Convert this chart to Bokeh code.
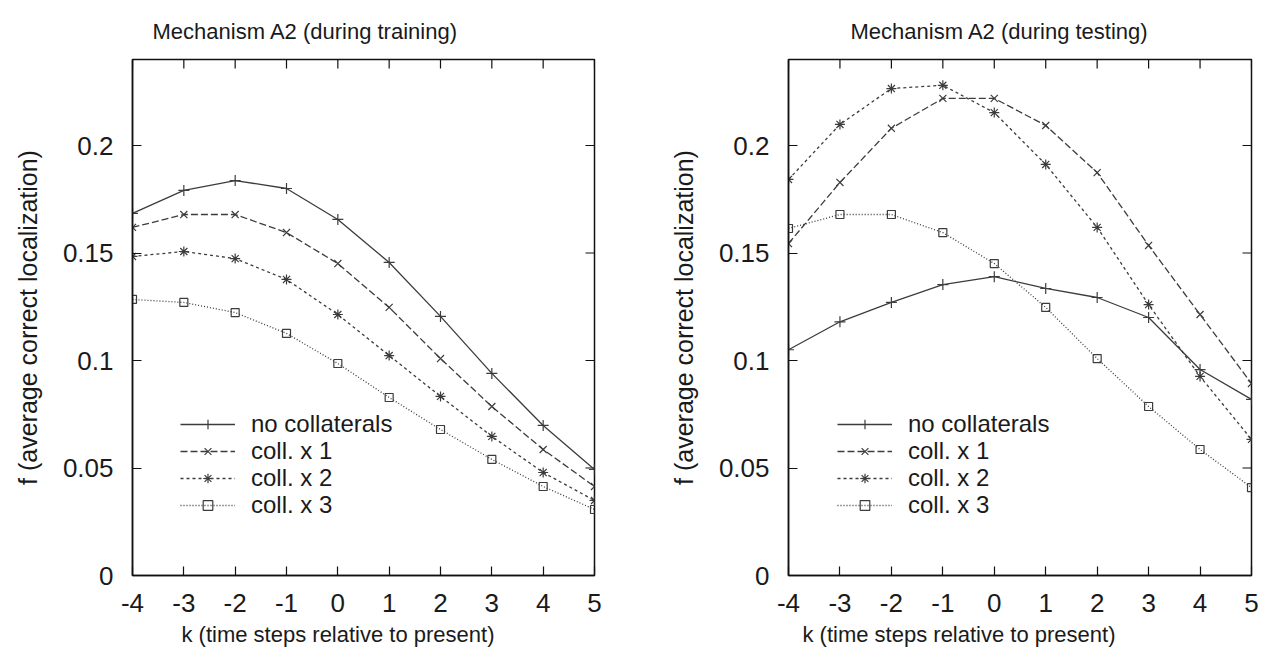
import math
from bokeh.plotting import figure
from bokeh.layouts import row
from bokeh.models import FixedTicker, Range1d, Legend, LegendItem, Title
from bokeh.embed import file_html
from bokeh.resources import INLINE

# ---------------- data ----------------
k = [-4, -3, -2, -1, 0, 1, 2, 3, 4, 5]

series_names = ["no collaterals", "coll. x 1", "coll. x 2", "coll. x 3"]

train_none = [0.1684, 0.1791, 0.1837, 0.1800, 0.1656, 0.1456, 0.1205, 0.0940, 0.0698, 0.0493]
train_c1 = [0.1619, 0.1679, 0.1679, 0.1595, 0.1451, 0.1247, 0.1009, 0.0786, 0.0586, 0.0414]
train_c2 = [0.1484, 0.1507, 0.1474, 0.1377, 0.1214, 0.1023, 0.0833, 0.0647, 0.0479, 0.0349]
train_c3 = [0.1284, 0.1270, 0.1223, 0.1126, 0.0986, 0.0828, 0.0679, 0.0540, 0.0414, 0.0307]

test_none = [0.1050, 0.1180, 0.1270, 0.1353, 0.1390, 0.1335, 0.1293, 0.1200, 0.0958, 0.0819]
test_c1 = [0.1544, 0.1828, 0.2080, 0.2219, 0.2219, 0.2093, 0.1874, 0.1535, 0.1214, 0.0893]
test_c2 = [0.1842, 0.2098, 0.2265, 0.2280, 0.2153, 0.1912, 0.1619, 0.1260, 0.0926, 0.0633]
test_c3 = [0.1614, 0.1679, 0.1679, 0.1595, 0.1451, 0.1247, 0.1009, 0.0786, 0.0586, 0.0409]

x_ticks = [-4, -3, -2, -1, 0, 1, 2, 3, 4, 5]
x_tick_labels = ["-4", "-3", "-2", "-1", "0", "1", "2", "3", "4", "5"]
y_ticks = [0, 0.05, 0.1, 0.15, 0.2]
y_tick_labels = ["0", "0.05", "0.1", "0.15", "0.2"]

x_min, x_max = -4, 5
y_min, y_max = 0, 0.24

titles = ["Mechanism A2 (during training)", "Mechanism A2 (during testing)"]
x_label = "k (time steps relative to present)"
y_label = "f (average correct localization)"

# ---------------- styles ----------------
FONT = "Liberation Sans"
TXT = "#1a1a1a"
LINE = "#3c3c3c"
FRAME = "#111111"
markers = ["cross", "x", "asterisk", "square"]
msizes = [11, 10, 10, 8]
dashes = ["solid", "7 3", "3 3", "1 2"]
LEG_PITCH = 27        # vertical distance between legend rows (px)
LEG_BOTTOM = 56       # bottom legend row offset from the frame bottom (px)


def make(title, data, width, bl, br, title_offset, xlab_offset, lx):
    p = figure(width=width, height=655,
               x_range=Range1d(x_min, x_max), y_range=Range1d(y_min, y_max),
               output_backend="svg", toolbar_location=None,
               min_border_left=bl, min_border_right=br,
               min_border_top=59, min_border_bottom=80)
    p.title.text = title
    p.title.text_font = FONT
    p.title.text_font_size = "22px"
    p.title.text_font_style = "normal"
    p.title.text_color = TXT
    p.title.align = "left"
    p.title.vertical_align = "bottom"
    p.title.offset = title_offset
    p.title.standoff = 32
    p.grid.visible = False
    p.outline_line_color = FRAME
    p.outline_line_width = 1.5
    p.background_fill_color = "white"
    p.border_fill_color = "white"

    xt = FixedTicker(ticks=x_ticks)
    yt = FixedTicker(ticks=y_ticks)
    xo = {t: s for t, s in zip(x_ticks, x_tick_labels)}
    yo = {t: s for t, s in zip(y_ticks, y_tick_labels)}

    for ax in p.xaxis:
        ax.ticker = xt
        ax.major_label_overrides = xo
    for ax in p.yaxis:
        ax.ticker = yt
        ax.major_label_overrides = yo
        ax.axis_label = y_label
        ax.axis_label_text_font_size = "25px"
    for ax in p.xaxis + p.yaxis:
        ax.major_tick_in = 9
        ax.major_tick_out = 0
        ax.minor_tick_line_color = None
        ax.major_tick_line_color = FRAME
        ax.major_tick_line_width = 1.2
        ax.axis_line_color = FRAME
        ax.axis_line_width = 1.5
        ax.major_label_text_font = FONT
        ax.major_label_text_font_size = "26px"
        ax.major_label_text_color = TXT
        ax.axis_label_text_font = FONT
        ax.axis_label_text_font_style = "normal"
        ax.axis_label_text_color = TXT
    p.xaxis.major_label_standoff = 18
    p.yaxis.major_label_standoff = 19
    p.yaxis.axis_label_standoff = 18

    # x-axis label placed like the original (offset from the frame's left edge)
    xl = Title(text=x_label, align="left", vertical_align="top", offset=xlab_offset,
               standoff=14, text_font=FONT, text_font_size="22px",
               text_font_style="normal", text_color=TXT)
    p.add_layout(xl, "below")

    # mirrored (inward) ticks on the top and right edges
    p.ray(x=x_ticks, y=[y_max] * len(x_ticks), length=9, length_units="screen",
          angle=-math.pi / 2, line_color=FRAME, line_width=1.2)
    p.ray(x=[x_max] * len(y_ticks), y=y_ticks, length=9, length_units="screen",
          angle=math.pi, line_color=FRAME, line_width=1.2)

    n = len(series_names)
    for i, (name, ys, m, ms, d) in enumerate(zip(series_names, data, markers, msizes, dashes)):
        lr = p.line(k, ys, line_color=LINE, line_width=1.3, line_dash=d)
        sr = p.scatter(k, ys, marker=m, size=ms, line_color=LINE, line_width=1.2,
                       fill_color=None)
        leg = Legend(items=[LegendItem(label=name, renderers=[lr, sr])],
                     location=(lx, LEG_BOTTOM + (n - 1 - i) * LEG_PITCH),
                     padding=0, margin=0, spacing=0,
                     glyph_width=55, glyph_height=24, label_height=24, label_standoff=16,
                     label_text_font=FONT, label_text_font_size="24px",
                     label_text_color=TXT,
                     border_line_alpha=0, background_fill_alpha=0)
        p.add_layout(leg)
    return p


p1 = make(titles[0], [train_none, train_c1, train_c2, train_c3], 648, 132, 54, 20, 49, 48)
p2 = make(titles[1], [test_none, test_c1, test_c2, test_c3], 623, 140, 20, 62, 14, 49)

layout = row(p1, p2)
open("out.html", "w").write(file_html(layout, INLINE))
